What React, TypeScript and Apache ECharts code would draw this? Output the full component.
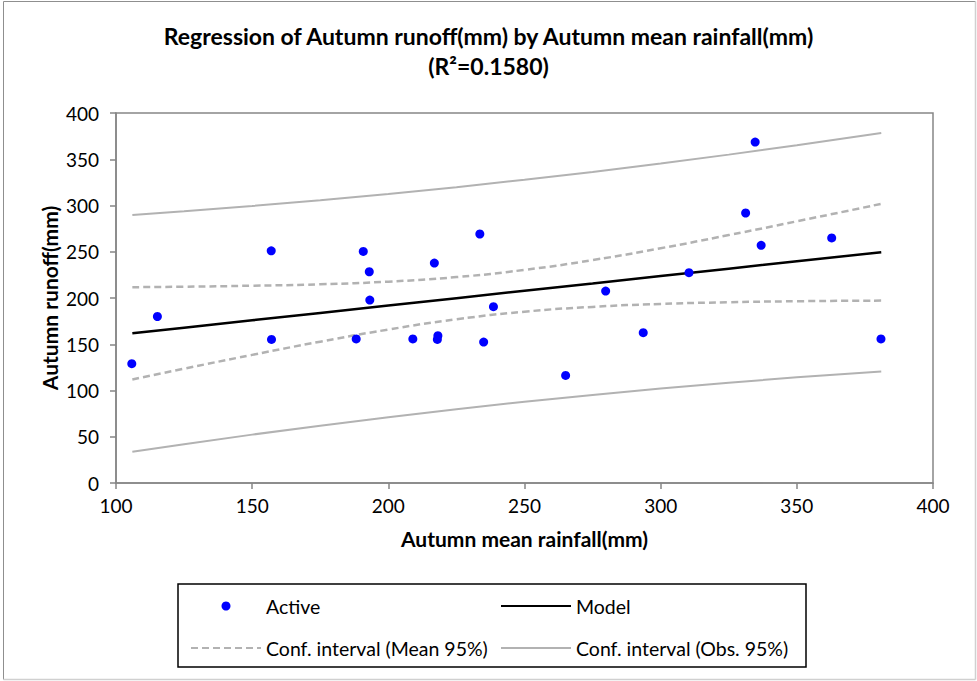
import React, { useEffect, useRef } from "react";
import * as echarts from "echarts";

const TITLE = "Regression of Autumn runoff(mm) by Autumn mean rainfall(mm)\n(R²=0.1580)";
const X_NAME = "Autumn mean rainfall(mm)";
const Y_NAME = "Autumn runoff(mm)";

// Observations (Active)
const rainfall = [105.8, 115.2, 157.1, 188.2, 193.2, 157.0, 190.8, 193.0, 216.9, 233.6, 279.8, 310.4, 334.7, 331.2, 336.9, 362.8, 209.0, 218.2, 218.0, 235.0, 238.6, 265.1, 293.6, 380.9];
const runoff = [129, 180, 155.2, 155.7, 197.8, 251, 250.4, 228.4, 237.8, 269.2, 207.5, 227.4, 368.6, 291.9, 256.9, 264.9, 155.7, 159.2, 155.2, 152.4, 190.6, 116.3, 162.5, 155.7];

// Curves
const curveX = [106, 125, 150, 175, 200, 225, 250, 275, 300, 325, 350, 381];
const model = [161.8, 167.9, 175.9, 183.8, 191.8, 199.8, 207.8, 215.7, 223.7, 231.7, 239.7, 249.5];
const meanUpper = [211.7, 212.2, 213.3, 214.8, 217.7, 222.6, 230.4, 241.0, 253.8, 268.0, 282.9, 301.8];
const meanLower = [111.9, 123.6, 138.5, 152.8, 165.9, 177.0, 185.2, 190.4, 193.6, 195.4, 196.5, 197.2];
const obsUpper = [289.8, 293.8, 299.5, 305.7, 312.5, 319.8, 327.8, 336.2, 345.3, 355.0, 365.2, 378.5];
const obsLower = [33.8, 42.0, 52.3, 61.9, 71.1, 79.8, 87.8, 95.2, 102.1, 108.4, 114.2, 120.5];

const FONT = "Lato, 'Open Sans', sans-serif";
const AXIS_COLOR = "#868686";
const BAND_COLOR = "#b2b2b2";

const pairs = (xs: number[], ys: number[]) => xs.map((x, i) => [x, ys[i]]);

export default function App() {
  const ref = useRef<HTMLDivElement>(null);
  useEffect(() => {
    if (!ref.current) return;
    const chart = echarts.init(ref.current, undefined, { renderer: "svg" });
    const legendText = { fontFamily: FONT, fontSize: 19.5, color: "#000", lineHeight: 22 };
    const hideSym = { opacity: 0 };
    chart.setOption({
      animation: false,
      backgroundColor: "#fff",
      title: {
        text: TITLE,
        left: "center",
        top: 16,
        textStyle: { fontFamily: FONT, fontSize: 23, fontWeight: "bold", color: "#000", lineHeight: 30 },
      },
      grid: {
        left: 116, right: 44, top: 113, bottom: 198,
        show: true, borderColor: AXIS_COLOR, borderWidth: 1.5, backgroundColor: "transparent",
      },
      xAxis: {
        type: "value", min: 100, max: 400, interval: 50,
        name: X_NAME, nameLocation: "middle", nameGap: 45, nameMoveOverlap: false,
        nameTextStyle: { fontFamily: FONT, fontSize: 21, fontWeight: "bold", color: "#000" },
        axisLine: { show: true, lineStyle: { color: AXIS_COLOR, width: 1.5 } },
        axisTick: { show: true, length: 6, lineStyle: { color: AXIS_COLOR, width: 1.5 } },
        axisLabel: { fontFamily: FONT, fontSize: 19, color: "#000", margin: 13 },
        splitLine: { show: false },
      },
      yAxis: {
        type: "value", min: 0, max: 400, interval: 50,
        name: Y_NAME, nameLocation: "middle", nameGap: 56, nameMoveOverlap: false,
        nameTextStyle: { fontFamily: FONT, fontSize: 21, fontWeight: "bold", color: "#000" },
        axisLine: { show: true, lineStyle: { color: AXIS_COLOR, width: 1.5 } },
        axisTick: { show: true, length: 6, lineStyle: { color: AXIS_COLOR, width: 1.5 } },
        axisLabel: { fontFamily: FONT, fontSize: 19, color: "#000", margin: 17 },
        splitLine: { show: false },
      },
      legend: [
        {
          orient: "vertical", left: 190, top: 595, padding: 0, itemWidth: 70, itemHeight: 9, itemGap: 20,
          data: [
            { name: "Active" },
            { name: "Conf. interval (Mean 95%)", itemStyle: hideSym },
          ],
          textStyle: legendText,
        },
        {
          orient: "vertical", left: 500, top: 595, padding: 0, itemWidth: 70, itemHeight: 9, itemGap: 20,
          data: [
            { name: "Model", itemStyle: hideSym },
            { name: "Conf. interval (Obs. 95%)", itemStyle: hideSym },
          ],
          textStyle: legendText,
        },
      ],
      graphic: [
        { type: "line", shape: { x1: 3.5, y1: 1.5, x2: 975.5, y2: 1.5 }, style: { stroke: "#8f8f8f", lineWidth: 1 } },
        { type: "line", shape: { x1: 3.5, y1: 1.5, x2: 3.5, y2: 679.5 }, style: { stroke: "#8f8f8f", lineWidth: 1 } },
        { type: "line", shape: { x1: 975.5, y1: 1.5, x2: 975.5, y2: 679.5 }, style: { stroke: "#d0d0d0", lineWidth: 1.5 } },
        { type: "line", shape: { x1: 3.5, y1: 679.5, x2: 975.5, y2: 679.5 }, style: { stroke: "#d0d0d0", lineWidth: 1.5 } },
        { type: "rect", shape: { x: 178, y: 584, width: 628, height: 83 }, style: { fill: "none", stroke: "#000", lineWidth: 1.5 } },
      ],
      series: [
        {
          name: "Conf. interval (Obs. 95%)", type: "line", symbol: "none", data: pairs(curveX, obsUpper),
          lineStyle: { color: BAND_COLOR, width: 2 }, itemStyle: { color: BAND_COLOR }, z: 1,
        },
        {
          name: "Conf. interval (Obs. 95%)", type: "line", symbol: "none", data: pairs(curveX, obsLower),
          lineStyle: { color: BAND_COLOR, width: 2 }, itemStyle: { color: BAND_COLOR }, z: 1,
        },
        {
          name: "Conf. interval (Mean 95%)", type: "line", symbol: "none", smooth: true, data: pairs(curveX, meanUpper),
          lineStyle: { color: BAND_COLOR, width: 2.5, type: [7, 4] }, itemStyle: { color: BAND_COLOR }, z: 2,
        },
        {
          name: "Conf. interval (Mean 95%)", type: "line", symbol: "none", smooth: true, data: pairs(curveX, meanLower),
          lineStyle: { color: BAND_COLOR, width: 2.5, type: [7, 4] }, itemStyle: { color: BAND_COLOR }, z: 2,
        },
        {
          name: "Model", type: "line", symbol: "none", data: pairs(curveX, model),
          lineStyle: { color: "#000", width: 2.5 }, itemStyle: { color: "#000" }, z: 3,
        },
        {
          name: "Active", type: "scatter", symbol: "circle", symbolSize: 9, data: pairs(rainfall, runoff),
          itemStyle: { color: "#0000ff", opacity: 1 }, z: 4,
        },
      ],
    });
    return () => chart.dispose();
  }, []);
  return <div ref={ref} style={{ position: "fixed", left: 0, top: 0, width: 977, height: 681 }} />;
}
